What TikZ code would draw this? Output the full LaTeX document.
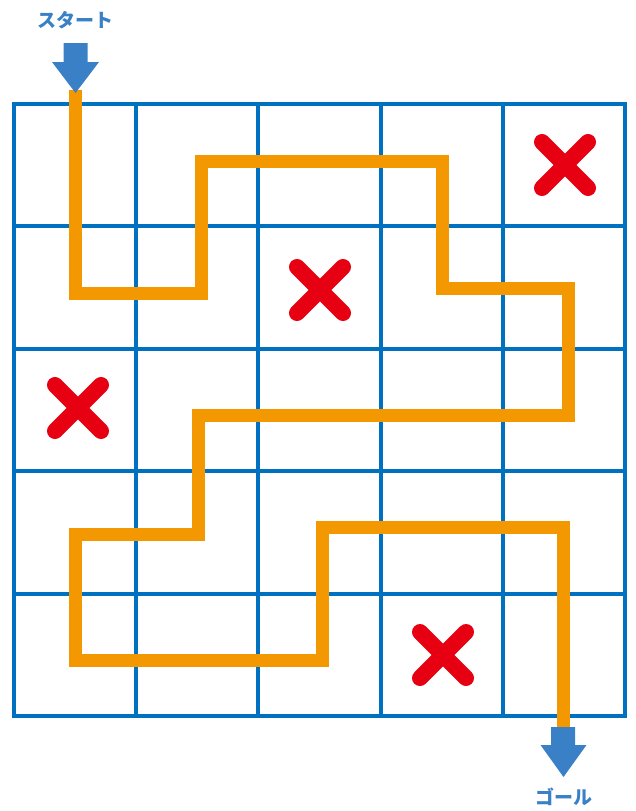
\documentclass[tikz,border=0pt]{standalone}
\usepackage{fontspec}
\newfontfamily\jpfont{Noto Sans CJK JP}
\definecolor{GridBlue}{HTML}{0070C0}
\definecolor{ArrowBlue}{HTML}{3A80C6}
\definecolor{PathOrange}{HTML}{F39800}
\definecolor{CrossRed}{HTML}{E60012}

\begin{document}
\begin{tikzpicture}[x=1pt, y=-1pt, gridline/.style={draw=GridBlue, line width=4pt}, route/.style={draw=PathOrange, line width=13pt, line join=miter}, cross/.style={draw=CrossRed, line width=16pt, line cap=round}, blockarrow/.style={fill=ArrowBlue, draw=none}, mazelabel/.style={font=\jpfont\bfseries\fontsize{19}{19}\selectfont, text=ArrowBlue, inner sep=0pt}]
\useasboundingbox (0,0) rectangle (635,811);
% grid
\foreach \i in {1,...,4} {
  \draw[gridline] (14+122.2*\i,104) -- (14+122.2*\i,716);
  \draw[gridline] (14,104+122.4*\i) -- (625,104+122.4*\i);
}
\draw[gridline] (14,104) rectangle (625,716);
% crosses
\foreach \cx/\cy in {565/165, 320/290, 78/408, 443/655}
  \draw[cross] (\cx-23,\cy-23) -- (\cx+23,\cy+23) (\cx-23,\cy+23) -- (\cx+23,\cy-23);
% route
\coordinate (start) at (75.5,90);
\coordinate (goal) at (563,732);
\draw[route] (start) -- (75.5,293) -- (201,293) -- (201,161) -- (442,161) -- (442,288) -- (568,288) -- (568,415) -- (198,415) -- (198,534) -- (75.5,534) -- (75.5,660) -- (322,660) -- (322,527) -- (563,527) -- (goal);
% arrows
\fill[blockarrow] (63.5,43) -- (87.5,43) -- (87.5,62) -- (99,62) -- (75.5,93) -- (52,62) -- (63.5,62) -- cycle;
\fill[blockarrow] (551,727) -- (575,727) -- (575,745) -- (586.5,745) -- (563.5,777) -- (540.5,745) -- (551,745) -- cycle;
% labels
\node[mazelabel] (startlabel) at (75.5,20) {スタート};
\node[mazelabel] (goallabel) at (564,797) {ゴール};
\end{tikzpicture}
\end{document}
